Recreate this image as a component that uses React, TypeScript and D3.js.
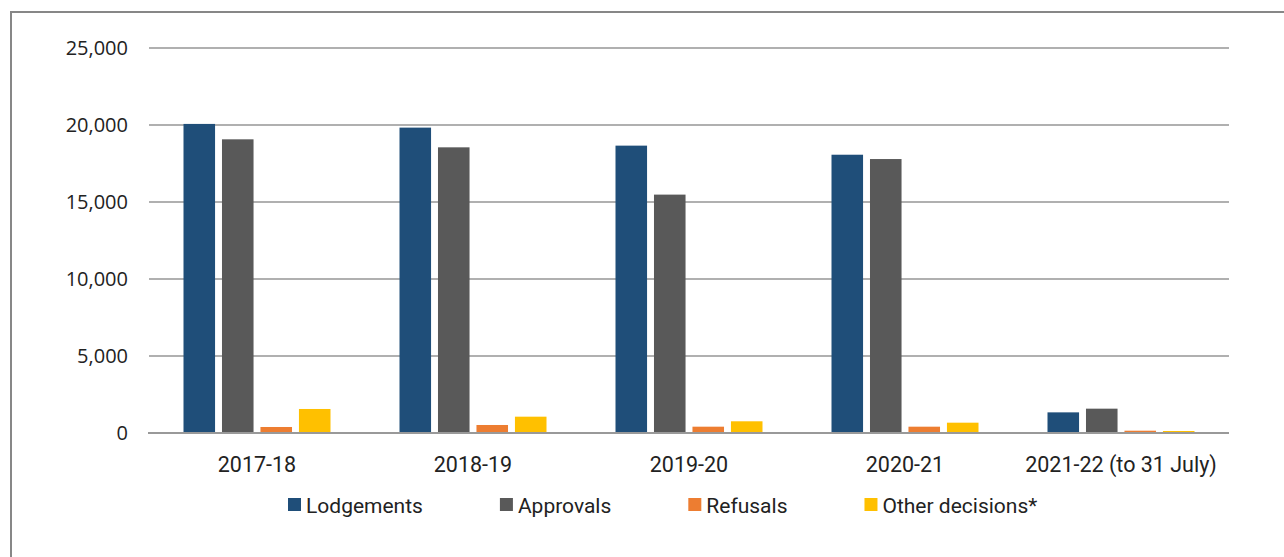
import React from "react";
import * as d3 from "d3";

const categories = ["2017-18", "2018-19", "2019-20", "2020-21", "2021-22 (to 31 July)"];
const seriesNames = ["Lodgements", "Approvals", "Refusals", "Other decisions*"];
const lodgements = [20070, 19830, 18660, 18070, 1340];
const approvals = [19070, 18550, 15480, 17790, 1580];
const refusals = [390, 520, 410, 410, 150];
const otherDecisions = [1560, 1060, 760, 670, 130];
const yTicks = [0, 5000, 10000, 15000, 20000, 25000];
const colors = ["#1F4E79", "#595959", "#ED7D31", "#FFC000"];

const W = 1284;
const H = 557;
const left = 149;
const right = 1229;
const top = 48;
const bottom = 433;

function measure(text: string, font: string): number {
  if (typeof document === "undefined") return text.length * 10;
  const c = document.createElement("canvas");
  const ctx = c.getContext("2d");
  if (!ctx) return text.length * 10;
  ctx.font = font;
  return ctx.measureText(text).width;
}

export default function App() {
  const seriesValues = [lodgements, approvals, refusals, otherDecisions];
  const x0 = d3.scaleBand<string>().domain(categories).range([left, right]).padding(0);
  const x1 = d3.scaleBand<string>().domain(seriesNames).range([0, 147]).paddingInner(0.18).paddingOuter(0);
  const y = d3.scaleLinear().domain([0, 25000]).range([bottom, top]);
  const fmt = d3.format(",");

  const legendFont = "21px Roboto";
  let lx = 288;
  const legendItems = seriesNames.map((name, i) => {
    const item = { name, x: lx, color: colors[i] };
    lx += 13 + 5 + measure(name, legendFont) + 77;
    return item;
  });

  return (
    <svg width={W} height={H} style={{ position: "absolute", left: 0, top: 0, background: "#fff" }}>
      <rect x={0} y={0} width={W} height={H} fill="#fff" />
      <rect x={11} y={12} width={W + 20} height={H + 20} fill="none" stroke="#878787" strokeWidth={2} />
      {yTicks.map((t) => (
        <g key={t}>
          {t !== 0 && (
            <line x1={left} x2={right} y1={y(t)} y2={y(t)} stroke="#b0b0b0" strokeWidth={2} />
          )}
          <text
            x={128}
            y={y(t)}
            dy="0.36em"
            textAnchor="end"
            fontFamily="'Open Sans', sans-serif"
            fontSize={20}
            fill="#222"
          >
            {fmt(t)}
          </text>
        </g>
      ))}
      {categories.map((c, ci) => {
        const center = (x0(c) as number) + x0.bandwidth() / 2;
        const start = center - 73.5;
        return (
          <g key={c}>
            {seriesNames.map((s, si) => {
              const v = seriesValues[si][ci];
              return (
                <rect
                  key={s}
                  x={start + (x1(s) as number)}
                  y={y(v)}
                  width={x1.bandwidth()}
                  height={y(0) - y(v)}
                  fill={colors[si]}
                />
              );
            })}
            <text
              x={center}
              y={472}
              textAnchor="middle"
              fontFamily="Roboto, sans-serif"
              fontSize={21.5}
              fill="#222"
            >
              {c}
            </text>
          </g>
        );
      })}
      <line x1={left - 1} x2={right} y1={y(0)} y2={y(0)} stroke="#999" strokeWidth={2} />
      {legendItems.map((it) => (
        <g key={it.name}>
          <rect x={it.x} y={498} width={13} height={13} fill={it.color} />
          <text
            x={it.x + 18}
            y={512.5}
            fontFamily="Roboto, sans-serif"
            fontSize={21}
            fill="#222"
          >
            {it.name}
          </text>
        </g>
      ))}
    </svg>
  );
}
